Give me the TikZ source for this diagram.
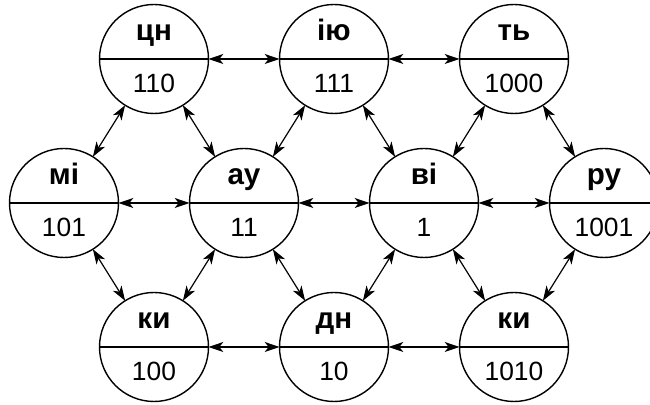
\documentclass[tikz,border=0pt]{standalone}
\usepackage{fontspec}
\setmainfont{Liberation Sans}
\usetikzlibrary{positioning, arrows.meta}

\tikzset{
  vertex/.style={circle, draw, line width=0.7pt, minimum size=54.5pt,
    inner sep=0pt, outer sep=0pt,
    path picture={\draw[line width=0.6pt] (path picture bounding box.west)
      -- (path picture bounding box.east);}},
  word/.style={label={[anchor=base, yshift=-18.25pt,
      font=\fontsize{14.8pt}{17pt}\selectfont\bfseries]90:#1}},
  code/.style={label={[anchor=base, yshift=10.5pt,
      font=\fontsize{13.2pt}{15pt}\selectfont]-90:#1}}
}

\begin{document}
\begin{tikzpicture}[node distance=90pt, on grid,
    >={Stealth[length=7.4pt, width=5pt, inset=2pt]}, line width=0.6pt]
  \useasboundingbox (-77pt,29.5pt) rectangle (248pt,-173pt);

  % TOP ROW
  \node[vertex, word=цн, code=110] (cn) {};
  \node[vertex, word=ію, code=111] (iu) [right=of cn] {};
  \node[vertex, word=ть, code=1000] (tj) [right=of iu] {};

  % MIDDLE ROW
  \node[vertex, word=мі, code=101] (mi) [below left=72pt and 45pt of cn] {};
  \node[vertex, word=ау, code=11] (au) [right=of mi] {};
  \node[vertex, word=ві, code=1] (vi) [right=of au] {};
  \node[vertex, word=ру, code=1001] (ru) [right=of vi] {};

  % BOTTOM ROW
  \node[vertex, word=ки, code=100] (ki) [below right=72pt and 45pt of mi] {};
  \node[vertex, word=дн, code=10] (dn) [right=of ki] {};
  \node[vertex, word=ки, code=1010] (kii) [right=of dn] {};

  % LINKS
  \path[<->]
    (cn) edge (iu)
    (iu) edge (tj)
    (mi) edge (au)
    (au) edge (vi)
    (vi) edge (ru)
    (ki) edge (dn)
    (dn) edge (kii)
    (cn) edge (mi)
    (cn) edge (au)
    (iu) edge (au)
    (iu) edge (vi)
    (tj) edge (vi)
    (tj) edge (ru)
    (mi) edge (ki)
    (au) edge (ki)
    (au) edge (dn)
    (vi) edge (dn)
    (vi) edge (kii)
    (ru) edge (kii);

\end{tikzpicture}
\end{document}
